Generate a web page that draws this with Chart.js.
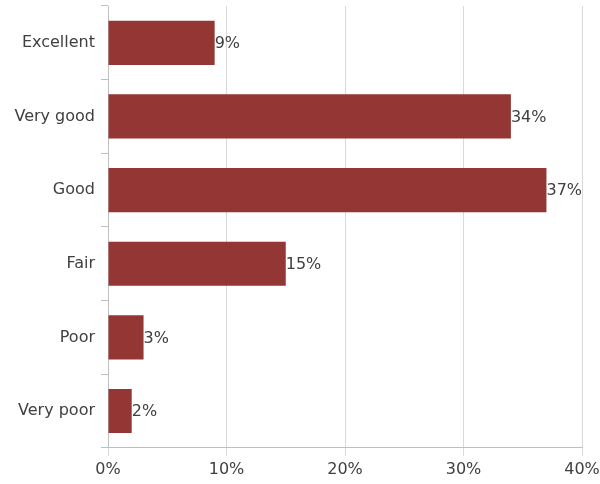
<!DOCTYPE html>
<html>
<head>
<meta charset="utf-8">
<script src="https://cdn.jsdelivr.net/npm/chart.js@4.4.0/dist/chart.umd.min.js"></script>
<style>
  body { margin: 0; background: #fff; }
  #wrap { width: 600px; height: 484px; }
</style>
</head>
<body>
<div id="wrap"><canvas id="bar"></canvas></div>
<script>
var categories = ['Excellent', 'Very good', 'Good', 'Fair', 'Poor', 'Very poor'];
var values = [9, 34, 37, 15, 3, 2];
var xTicks = [0, 10, 20, 30, 40];

// draws the "9%" labels just past the end of each bar
var endLabels = {
    id: 'endLabels',
    afterDatasetsDraw: function (chart) {
        var ctx = chart.ctx;
        var meta = chart.getDatasetMeta(0);
        ctx.save();
        ctx.font = '16px "DejaVu Sans", sans-serif';
        ctx.fillStyle = '#404040';
        ctx.textAlign = 'left';
        ctx.textBaseline = 'middle';
        meta.data.forEach(function (bar, i) {
            ctx.fillText(values[i] + '%', bar.x, bar.y + 1);
        });
        ctx.restore();
    }
};

Chart.defaults.font.family = '"DejaVu Sans", sans-serif';
Chart.defaults.font.size = 16;
Chart.defaults.color = '#404040';

var ctx = document.getElementById("bar").getContext("2d");
var myChart = new Chart(ctx, {
    type: 'bar',
    data: {
        labels: categories,
        datasets: [{
            data: values,
            backgroundColor: '#943634',
            categoryPercentage: 0.6,
            barPercentage: 1
        }]
    },
    options: {
        indexAxis: 'y',
        responsive: true,
        maintainAspectRatio: false,
        animation: false,
        layout: { padding: { top: 6, left: 8, right: 0, bottom: 1 } },
        plugins: { legend: { display: false }, tooltip: { enabled: false } },
        scales: {
            x: {
                min: 0,
                max: 40,
                afterBuildTicks: function (axis) {
                    axis.ticks = xTicks.map(function (v) { return { value: v }; });
                },
                afterFit: function (axis) { axis.paddingRight = 18; },
                ticks: {
                    padding: 4,
                    callback: function (v) { return v + '%'; }
                },
                grid: { color: '#d9d9d9', tickLength: 8, lineWidth: 1 },
                border: { color: '#bfbfbf', width: 1 }
            },
            y: {
                afterFit: function (axis) {
                    axis.width = 100;
                    axis.paddingTop = 0;
                    axis.paddingBottom = 0;
                },
                ticks: { padding: 6 },
                grid: { drawOnChartArea: false, offset: true, tickLength: 7, color: '#bfbfbf' },
                border: { color: '#bfbfbf', width: 1 }
            }
        }
    },
    plugins: [endLabels]
});
</script>
</body>
</html>
